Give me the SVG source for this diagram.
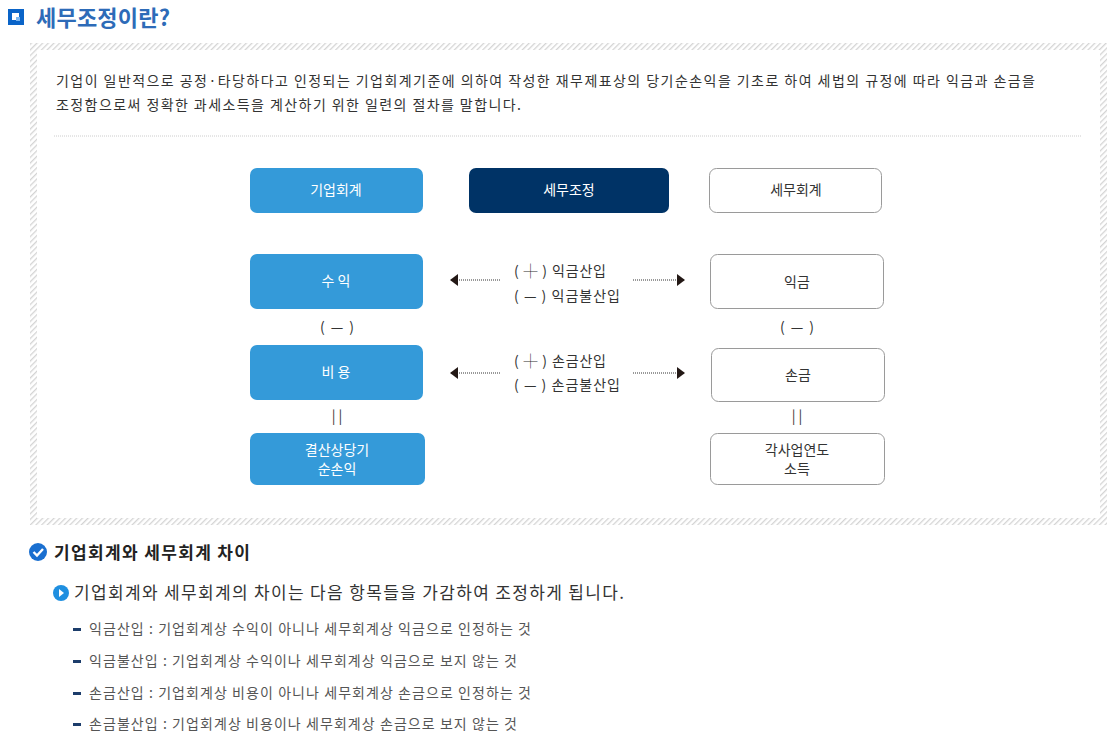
<svg xmlns="http://www.w3.org/2000/svg" width="1112" height="744" viewBox="0 0 1112 744">
<style>
text{font-family:"Noto Sans CJK KR","Noto Sans",sans-serif}
.b{fill:#349ad9}
.w{fill:#fff;stroke:#9a9a9a;stroke-width:1}
.wt{fill:#fff;font-size:14px;text-anchor:middle}
.dt{fill:#333;font-size:14px;text-anchor:middle}
.lt{fill:#333;font-size:14px}
.body{fill:#333;font-size:14px}
.li{fill:#555;font-size:14px}
.dash{fill:#1c3d6b}
.dot{stroke:#333;stroke-width:1;stroke-dasharray:1 1;fill:none}
</style>
<defs>
<pattern id="h" width="4" height="4" patternUnits="userSpaceOnUse" patternTransform="rotate(45)">
<rect width="4" height="4" fill="#fff"/><rect width="1.3" height="4" fill="#d4d4d4"/>
</pattern>
<marker id="a" markerWidth="8" markerHeight="12" refX="8" refY="6" orient="auto" markerUnits="userSpaceOnUse"><path d="M0,0 L8,6 L0,12 Z" fill="#231815"/></marker>
</defs>
<rect width="1112" height="744" fill="#fff"/>
<rect x="8" y="9" width="16" height="16" fill="#0a64c8"/><rect x="12" y="13" width="7" height="7" fill="#fff"/><rect x="16" y="17" width="4" height="4" fill="#7ab6f0"/>
<text x="36" y="26" textLength="134" style="font-size:22px;font-weight:bold;fill:#2d6bb8">세무조정이란?</text>
<rect x="30" y="43" width="1077" height="482" fill="url(#h)"/>
<rect x="37" y="50" width="1063" height="468" fill="#fff"/>
<text x="56" y="86" class="body" textLength="979">기업이 일반적으로 공정·타당하다고 인정되는 기업회계기준에 의하여 작성한 재무제표상의 당기순손익을 기초로 하여 세법의 규정에 따라 익금과 손금을</text>
<text x="56" y="110" class="body" textLength="465">조정함으로써 정확한 과세소득을 계산하기 위한 일련의 절차를 말합니다.</text>
<line x1="54" y1="136" x2="1082" y2="136" stroke="#ccc" stroke-dasharray="1 1"/>
<g id="n1"><rect x="250" y="168" width="173" height="45" rx="7" class="b"/><text x="336" y="195" class="wt">기업회계</text></g>
<g id="n2"><rect x="469" y="168" width="200" height="45" rx="7" fill="#003366"/><text x="569" y="195" class="wt">세무조정</text></g>
<g id="n3"><rect x="709.5" y="168.5" width="172" height="44" rx="7" class="w"/><text x="796" y="195" class="dt">세무회계</text></g>
<g id="n4"><rect x="250" y="254" width="173" height="55" rx="7" class="b"/><text x="336" y="286" class="wt">수 익</text></g>
<g id="n5"><rect x="250" y="345" width="173" height="55" rx="7" class="b"/><text x="336" y="377" class="wt">비 용</text></g>
<g id="n6"><rect x="250" y="433" width="175" height="52" rx="7" class="b"/><text x="337" y="455" class="wt">결산상당기</text><text x="337" y="474" class="wt">순손익</text></g>
<g id="n7"><rect x="710.5" y="254.5" width="173" height="54" rx="7" class="w"/><text x="797" y="287" class="dt">익금</text></g>
<g id="n8"><rect x="711.5" y="348.5" width="173" height="53" rx="7" class="w"/><text x="798" y="380" class="dt">손금</text></g>
<g id="n9"><rect x="710.5" y="433.5" width="174" height="51" rx="7" class="w"/><text x="797" y="455" class="dt">각사업연도</text><text x="797" y="474" class="dt">소득</text></g>
<text x="337" y="332" class="dt" textLength="34">( — )</text>
<text x="797" y="332" class="dt" textLength="34">( — )</text>
<text x="337" y="421" class="dt">| |</text>
<text x="797" y="421" class="dt">| |</text>
<g id="connectors">
<line x1="500" y1="280" x2="450" y2="280" class="dot" marker-end="url(#a)"/>
<line x1="633" y1="280" x2="685" y2="280" class="dot" marker-end="url(#a)"/>
<line x1="500" y1="373" x2="450" y2="373" class="dot" marker-end="url(#a)"/>
<line x1="633" y1="373" x2="685" y2="373" class="dot" marker-end="url(#a)"/>
</g>
<g fill="#333" font-size="14"><text x="514" y="276" textLength="92">( ┼ ) 익금산입</text>
<text x="514" y="301" textLength="106">( — ) 익금불산입</text>
<text x="514" y="366" textLength="92">( ┼ ) 손금산입</text>
<text x="514" y="390" textLength="106">( — ) 손금불산입</text></g>
<circle cx="38" cy="552" r="9" fill="#1a6fd0"/><path d="M33.5,552 L37,555.5 L43,549" stroke="#fff" stroke-width="2.4" fill="none"/>
<text x="54" y="559" textLength="196" style="font-size:17px;font-weight:bold;fill:#222">기업회계와 세무회계 차이</text>
<circle cx="61" cy="593" r="8" fill="#1f8fe0"/><path d="M59,589 L64,593 L59,597 Z" fill="#fff"/>
<text x="74" y="599" textLength="550" style="font-size:17px;fill:#333">기업회계와 세무회계의 차이는 다음 항목들을 가감하여 조정하게 됩니다.</text>
<rect x="73" y="628" width="8" height="3" class="dash"/><text x="89" y="634" class="li" textLength="442">익금산입 : 기업회계상 수익이 아니나 세무회계상 익금으로 인정하는 것</text>
<rect x="73" y="660" width="8" height="3" class="dash"/><text x="89" y="666" class="li" textLength="428">익금불산입 : 기업회계상 수익이나 세무회계상 익금으로 보지 않는 것</text>
<rect x="73" y="692" width="8" height="3" class="dash"/><text x="89" y="698" class="li" textLength="442">손금산입 : 기업회계상 비용이 아니나 세무회계상 손금으로 인정하는 것</text>
<rect x="73" y="723" width="8" height="3" class="dash"/><text x="89" y="729" class="li" textLength="428">손금불산입 : 기업회계상 비용이나 세무회계상 손금으로 보지 않는 것</text>
</svg>
